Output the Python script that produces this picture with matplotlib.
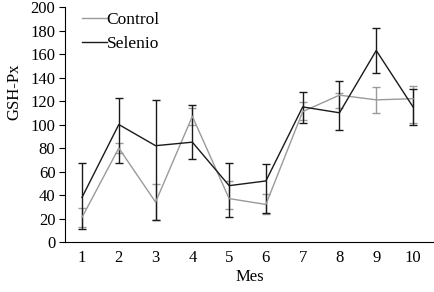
import numpy as np
import matplotlib.pyplot as plt

# Datos
meses = [1, 2, 3, 4, 5, 6, 7, 8, 9, 10]
control = [21, 80, 34, 107, 37, 32, 111, 125, 121, 122]
control_lo = [13, 76, 19, 100, 28, 24, 104, 114, 110, 101]
control_hi = [29, 84, 49, 114, 52, 41, 119, 127, 132, 133]
selenio = [38, 100, 82, 85, 48, 52, 115, 110, 163, 115]
selenio_lo = [11, 67, 19, 71, 21, 25, 101, 95, 144, 100]
selenio_hi = [67, 123, 121, 117, 67, 66, 128, 137, 182, 130]
yticks = [0, 20, 40, 60, 80, 100, 120, 140, 160, 180, 200]

plt.rcParams['font.family'] = ['Liberation Serif', 'DejaVu Serif']

# Barras de error asimetricas
c_err = [np.subtract(control, control_lo), np.subtract(control_hi, control)]
s_err = [np.subtract(selenio, selenio_lo), np.subtract(selenio_hi, selenio)]

fig = plt.figure(figsize=(4.34, 2.92), dpi=100)
ax = fig.add_axes([0.15, 0.171, 0.85, 0.805])

ax.errorbar(meses, control, yerr=c_err, color='#9a9a9a', lw=1.0,
            capsize=3, elinewidth=1.0, label='Control')
ax.errorbar(meses, selenio, yerr=s_err, color='#1a1a1a', lw=1.0,
            capsize=3, elinewidth=1.0, label='Selenio')

ax.set_xlim(0.54, 10.57)
ax.set_ylim(0, 200)
ax.set_xticks(meses)
ax.set_yticks(yticks)
ax.tick_params(axis='x', length=0, pad=6, labelsize=12)
ax.tick_params(axis='y', length=4, labelsize=12, pad=3)
ax.spines['top'].set_visible(False)
ax.spines['right'].set_visible(False)
ax.set_xlabel('Mes', fontsize=12, labelpad=2)
ax.set_ylabel('GSH-Px', fontsize=12)
ax.yaxis.set_label_coords(-0.115, 0.64)

handles, labels = ax.get_legend_handles_labels()
handles = [h[0] for h in handles]
ax.legend(handles, labels, loc='upper left', frameon=False, fontsize=12.5,
          handlelength=1.4, handletextpad=0.0, borderaxespad=0.0,
          borderpad=0.0, labelspacing=0.45, bbox_to_anchor=(0.047, 0.98))

fig.savefig('out.png', dpi=100)
